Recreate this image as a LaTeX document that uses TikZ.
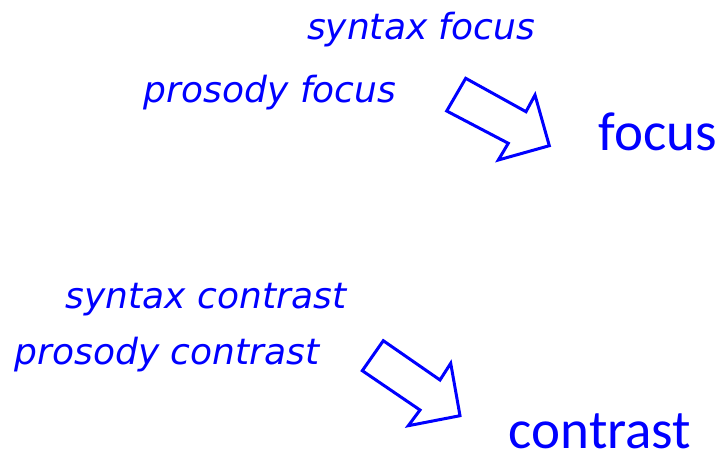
\documentclass[tikz,border=0pt]{standalone}
\usepackage{fontspec}
\setmainfont{DejaVu Sans}
\newfontfamily\labelfont{Carlito}
\begin{document}
\begin{tikzpicture}[x=1pt, y=-1pt]
      \tikzstyle{hand} = [font=\itshape\fontsize{36}{36}\selectfont, color=blue, inner sep=0pt]
      \tikzstyle{word} = [font=\labelfont\fontsize{55}{55}\selectfont, color=blue, inner sep=0pt]
      \tikzstyle{bigarrow} = [draw=blue, line width=3pt, line join=miter]
      \useasboundingbox (0,0) rectangle (722,456);
      % upper group
      \node (syntaxfocus) [hand] at (421,30) {syntax focus};
      \node (prosodyfocus) [hand] at (270,93) {prosody focus};
      \node (focus) [word] at (658,132) {focus};
      \draw[bigarrow] (465.7,78.3) -- (526,111.7) -- (535,95) -- (549.3,145.7)
        -- (498.3,160) -- (508.3,143.3) -- (446.7,111) -- cycle;
      % lower group
      \node (syntaxcontrast) [hand] at (206,300) {syntax contrast};
      \node (prosodycontrast) [hand] at (167,355) {prosody contrast};
      \node (contrast) [word] at (600,431) {contrast};
      \draw[bigarrow] (383.3,340.7) -- (440,380) -- (450.7,363.3) -- (460,415.7)
        -- (408.3,425.7) -- (420,410) -- (362.3,370.7) -- cycle;
    \end{tikzpicture}
\end{document}
